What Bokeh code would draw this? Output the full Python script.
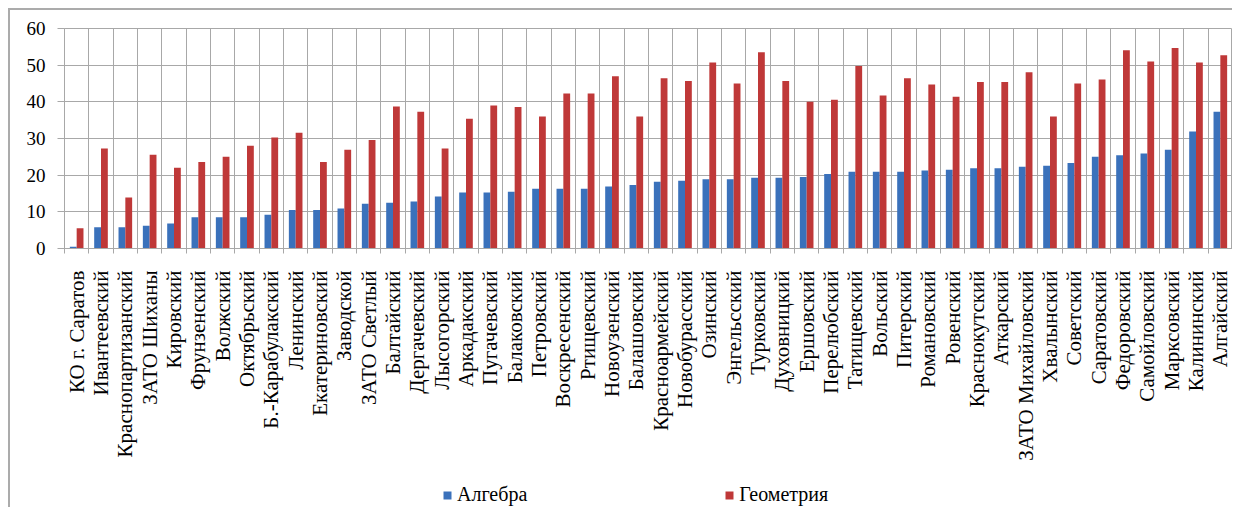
import math
from bokeh.plotting import figure
from bokeh.layouts import column
from bokeh.models import (ColumnDataSource, Range1d, LinearAxis,
                          FixedTicker, Grid, Legend, LegendItem)
from bokeh.transform import dodge
from bokeh.embed import file_html
from bokeh.resources import INLINE

districts = [
    "КО г. Саратов", "Ивантеевский", "Краснопартизанский", "ЗАТО Шиханы", "Кировский",
    "Фрунзенский", "Волжский", "Октябрьский", "Б.-Карабулакский", "Ленинский",
    "Екатериновский", "Заводской", "ЗАТО Светлый", "Балтайский", "Дергачевский",
    "Лысогорский", "Аркадакский", "Пугачевский", "Балаковский", "Петровский",
    "Воскресенский", "Ртищевский", "Новоузенский", "Балашовский", "Красноармейский",
    "Новобурасский", "Озинский", "Энгельсский", "Турковский", "Духовницкий",
    "Ершовский", "Перелюбский", "Татищевский", "Вольский", "Питерский",
    "Романовский", "Ровенский", "Краснокутский", "Аткарский", "ЗАТО Михайловский",
    "Хвалынский", "Советский", "Саратовский", "Федоровский", "Самойловский",
    "Марксовский", "Калининский", "Алгайский",
]
algebra = [
    0.5, 5.8, 5.8, 6.2, 6.8, 8.5, 8.5, 8.5, 9.2, 10.5,
    10.5, 10.9, 12.2, 12.5, 12.8, 14.2, 15.3, 15.3, 15.5, 16.3,
    16.3, 16.3, 16.9, 17.3, 18.2, 18.5, 18.9, 18.9, 19.3, 19.3,
    19.5, 20.3, 20.9, 20.9, 20.9, 21.3, 21.5, 21.9, 21.9, 22.3,
    22.6, 23.3, 25.0, 25.4, 25.9, 26.9, 31.9, 37.3,
]
geometry = [
    5.5, 27.3, 13.9, 25.6, 22.0, 23.6, 25.0, 28.0, 30.3, 31.6,
    23.6, 26.9, 29.6, 38.7, 37.3, 27.3, 35.4, 39.0, 38.6, 36.0,
    42.3, 42.3, 47.0, 36.0, 46.4, 45.7, 50.7, 45.0, 53.5, 45.7,
    40.0, 40.6, 49.8, 41.7, 46.4, 44.7, 41.4, 45.4, 45.4, 48.1,
    36.0, 45.0, 46.1, 54.1, 51.0, 54.7, 50.7, 52.7,
]
y_ticks = [0, 10, 20, 30, 40, 50, 60]
series_names = ["Алгебра", "Геометрия"]

BLUE = "#3a71bb"
RED = "#bf3838"
GRID = "#a8a8a8"
FONT = "Liberation Serif"

n = len(districts)
centers = [i + 0.5 for i in range(n)]
boundaries = list(range(n + 1))
src = ColumnDataSource(dict(pos=centers, district=districts, algebra=algebra, geometry=geometry))

p = figure(width=1222, height=460,
           x_range=Range1d(0, n), y_range=Range1d(y_ticks[0], y_ticks[-1]),
           x_axis_type=None, y_axis_type=None,
           output_backend="svg", toolbar_location=None,
           min_border_left=54, min_border_right=0, min_border_top=18, min_border_bottom=222)
p.outline_line_color = GRID
p.background_fill_color = "white"
p.border_fill_color = "white"

# grids (vertical lines at category boundaries)
p.add_layout(Grid(dimension=0, ticker=FixedTicker(ticks=boundaries),
                  grid_line_color=GRID, grid_line_width=1))
p.add_layout(Grid(dimension=1, ticker=FixedTicker(ticks=y_ticks),
                  grid_line_color=GRID, grid_line_width=1))

# y axis
yax = LinearAxis(ticker=FixedTicker(ticks=y_ticks),
                 major_tick_out=7, major_tick_in=0, major_label_standoff=12,
                 axis_line_color=GRID, major_tick_line_color=GRID, minor_tick_line_color=None,
                 major_label_text_font=FONT, major_label_text_font_size="19px",
                 major_label_text_color="black")
p.add_layout(yax, "left")

# x axis: labels at category centres, small ticks at category boundaries
xax = LinearAxis(ticker=FixedTicker(ticks=centers, minor_ticks=boundaries),
                 major_label_overrides={c: d for c, d in zip(centers, districts)},
                 major_label_orientation=math.pi / 2,
                 major_tick_out=5, major_tick_in=0, major_tick_line_color=None,
                 minor_tick_out=5, minor_tick_in=0, minor_tick_line_color=GRID,
                 axis_line_color=GRID, major_label_standoff=17,
                 major_label_text_font=FONT, major_label_text_font_size="21px",
                 major_label_text_color="black")
p.add_layout(xax, "below")

r1 = p.vbar(x=dodge("pos", -0.14), top="algebra", width=0.28,
            source=src, fill_color=BLUE, line_color=None)
r2 = p.vbar(x=dodge("pos", 0.14), top="geometry", width=0.28,
            source=src, fill_color=RED, line_color=None)

# legend strip below the chart (its bars fall outside its visible range,
# only the legend swatches show)
lf = figure(width=1222, height=37, x_range=Range1d(-2, -1), y_range=Range1d(0, 1),
            x_axis_type=None, y_axis_type=None, output_backend="svg", toolbar_location=None,
            min_border=0)
lf.outline_line_color = None
lf.grid.visible = False
l1 = lf.vbar(x=dodge("pos", -0.14), top="algebra", width=0.28, source=src,
             fill_color=BLUE, line_color=None)
l2 = lf.vbar(x=dodge("pos", 0.14), top="geometry", width=0.28, source=src,
             fill_color=RED, line_color=None)
legend = Legend(items=[LegendItem(label=series_names[0], renderers=[l1]),
                       LegendItem(label=series_names[1], renderers=[l2])],
                orientation="horizontal", location=(378, 1),
                glyph_width=10, glyph_height=10, label_standoff=5, spacing=197,
                padding=0, margin=0, border_line_color=None, background_fill_alpha=0,
                label_text_font=FONT, label_text_font_size="20px", label_text_color="black")
lf.add_layout(legend)

page = column(p, lf, spacing=0)
page.styles = {"margin-left": "8px", "margin-top": "8px",
               "border-left": "2px solid #ababab", "border-top": "2px solid #ababab"}

open("out.html", "w").write(file_html(page, INLINE))
